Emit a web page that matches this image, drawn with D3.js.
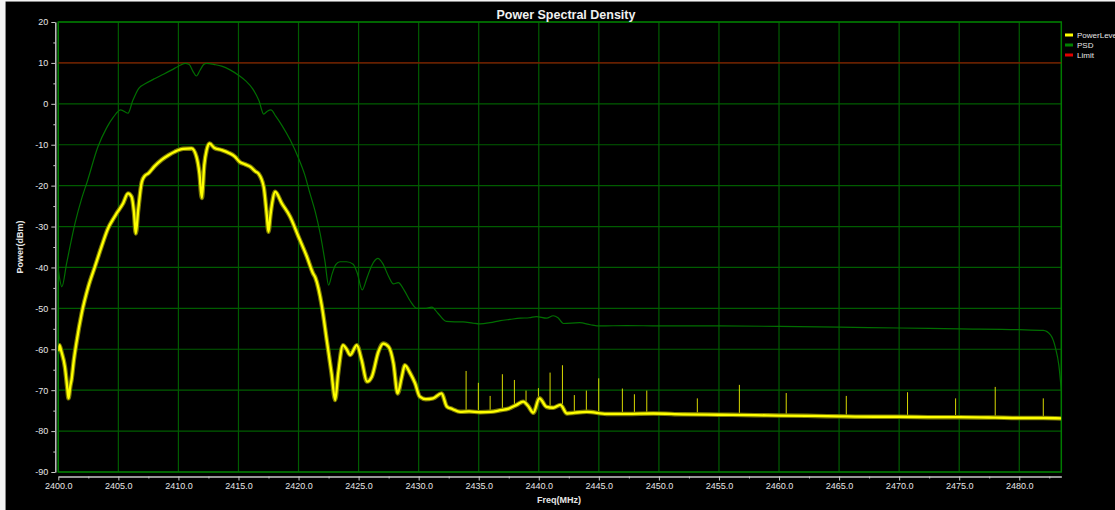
<!DOCTYPE html>
<html>
<head>
<meta charset="utf-8">
<script src="https://cdn.jsdelivr.net/npm/d3@7"></script>
<style>
	html, body { margin: 0; padding: 0; background: #f4f4f4; }
	svg { display: block; }
</style>
</head>
<body>
<svg id="psd-fig" width="1115" height="510"></svg>
<script>
// Spectrum values: [freq (MHz), level (dBm)]
const psd = [
	[2400.0, -40.5], [2400.3, -44.7], [2400.7, -38.9], [2401.4, -29.1], [2401.95, -23.1], [2402.4, -19.1],
	[2403.3, -10.5], [2404.0, -6.0], [2404.6, -3.2], [2405.2, -1.5], [2405.8, -2.3], [2406.2, 0.8],
	[2406.7, 3.8], [2407.3, 5.0], [2408.05, 6.2], [2408.8, 7.3], [2409.45, 8.3], [2410.0, 9.2],
	[2410.55, 9.9], [2410.9, 9.6], [2411.2, 8.0], [2411.5, 6.8], [2411.8, 8.2], [2412.1, 9.6],
	[2412.35, 9.9], [2413.0, 9.6], [2413.6, 9.2], [2414.3, 8.3], [2415.0, 7.0], [2415.6, 5.6],
	[2416.2, 3.6], [2416.7, 0.8], [2417.1, -2.5], [2417.4, -1.8], [2417.7, -1.5], [2418.1, -3.0],
	[2418.6, -5.2], [2419.3, -8.8], [2420.0, -13.3], [2420.5, -17.2], [2420.95, -21.9], [2421.4, -26.5],
	[2421.8, -31.7], [2422.2, -38.5], [2422.5, -44.3], [2422.8, -41.5], [2423.1, -39.3], [2423.45, -38.6],
	[2424.0, -38.6], [2424.55, -39.2], [2424.9, -41.5], [2425.3, -45.5], [2425.7, -42.5], [2426.1, -39.5],
	[2426.6, -37.8], [2427.0, -39.0], [2427.5, -42.2], [2427.9, -44.0], [2428.3, -43.7], [2428.8, -45.6],
	[2429.3, -48.2], [2429.85, -50.0], [2430.5, -50.0], [2431.1, -49.7], [2431.6, -51.2], [2432.3, -53.2],
	[2433.0, -53.3], [2433.7, -53.3], [2434.5, -53.6], [2435.1, -53.8], [2435.95, -53.5], [2436.8, -53.0],
	[2437.6, -52.7], [2438.45, -52.4], [2439.2, -52.3], [2439.8, -52.0], [2440.65, -52.4], [2441.2, -51.8],
	[2441.6, -52.3], [2442.05, -53.7], [2443.4, -53.5], [2444.3, -54.0], [2445.1, -54.3], [2447.3, -54.2],
	[2450.1, -54.3], [2455.0, -54.3], [2460.0, -54.4], [2465.0, -54.6], [2470.0, -54.8], [2475.0, -55.0],
	[2480.0, -55.2], [2482.0, -55.4], [2482.6, -56.5], [2483.0, -59.5], [2483.3, -64.0], [2483.5, -70.0]
];

const powerLevel = [
	[2400.0, -60.5], [2400.1, -59.0], [2400.25, -60.5], [2400.55, -64.3], [2400.75, -69.5], [2400.85, -72.0],
	[2401.0, -69.0], [2401.1, -67.5], [2401.3, -62.5], [2401.5, -58.6], [2401.95, -51.2], [2402.5, -44.7],
	[2403.05, -39.8], [2403.6, -34.9], [2404.15, -30.4], [2404.5, -28.5], [2404.85, -26.8], [2405.4, -24.3],
	[2405.8, -21.9], [2406.1, -22.7], [2406.3, -26.5], [2406.45, -31.7], [2406.65, -26.0], [2406.95, -19.1],
	[2407.2, -17.6], [2407.5, -17.0], [2408.0, -15.3], [2408.6, -13.7], [2409.2, -12.5], [2409.7, -11.7],
	[2410.4, -11.0], [2411.1, -10.9], [2411.5, -12.9], [2411.75, -17.0], [2411.95, -23.0], [2412.15, -15.0],
	[2412.35, -11.3], [2412.6, -9.7], [2413.0, -10.8], [2413.6, -11.3], [2414.2, -12.0], [2414.7, -12.9],
	[2415.1, -14.2], [2415.55, -14.8], [2416.0, -15.4], [2416.4, -16.5], [2416.65, -17.0], [2417.1, -20.3],
	[2417.35, -27.0], [2417.5, -31.3], [2417.65, -27.5], [2417.8, -24.3], [2418.05, -21.5], [2418.6, -24.3],
	[2419.3, -27.6], [2420.0, -32.5], [2420.7, -37.4], [2421.2, -41.4], [2421.4, -42.5], [2421.95, -49.6],
	[2422.35, -57.8], [2422.75, -65.9], [2423.05, -72.4], [2423.3, -65.9], [2423.7, -59.0], [2424.0, -60.0],
	[2424.3, -61.4], [2424.85, -59.0], [2425.25, -62.6], [2425.7, -67.9], [2426.1, -66.7], [2426.65, -60.6],
	[2427.05, -58.6], [2427.5, -59.4], [2427.9, -63.4], [2428.25, -70.8], [2428.6, -66.7], [2428.85, -63.9],
	[2429.3, -65.9], [2429.7, -68.3], [2430.1, -71.6], [2430.6, -72.2], [2431.2, -72.0], [2431.9, -70.8],
	[2432.35, -74.0], [2432.8, -74.6], [2433.45, -75.3], [2434.2, -75.2], [2435.1, -75.4], [2436.0, -75.3],
	[2436.8, -74.9], [2437.5, -74.5], [2438.15, -73.6], [2438.7, -72.8], [2439.1, -73.8], [2439.55, -75.5],
	[2440.05, -72.0], [2440.65, -74.1], [2441.2, -74.3], [2441.8, -73.6], [2442.35, -75.7], [2443.0, -75.5],
	[2444.0, -75.3], [2445.65, -75.8], [2447.3, -75.8], [2449.55, -75.7], [2452.0, -75.9], [2455.0, -76.0],
	[2458.0, -76.1], [2460.0, -76.2], [2463.0, -76.3], [2465.0, -76.4], [2468.0, -76.5], [2470.0, -76.5],
	[2473.0, -76.6], [2475.0, -76.6], [2478.0, -76.7], [2480.0, -76.8], [2482.0, -76.8], [2483.5, -76.9]
];

// Narrow spurs rising out of the noise floor: [freq, peak dBm]
const spurs = [
	[2433.95, -65.3], [2434.97, -68.2], [2435.95, -71.4], [2436.97, -66.1], [2437.97, -67.5],
	[2438.94, -70.1], [2439.97, -69.5], [2440.94, -65.7], [2441.97, -63.9], [2442.96, -71.2],
	[2443.96, -70.1], [2444.99, -67.1], [2446.96, -69.6], [2447.96, -71.0], [2448.99, -70.1],
	[2453.2, -72.0], [2456.7, -68.7], [2460.6, -70.7], [2465.6, -71.4], [2470.7, -70.5],
	[2474.7, -72.0], [2478.0, -69.2], [2482.0, -72.0]
];

const limitLevel = 10;
const freqTicks = d3.range(2400, 2480.01, 5);
const freqMinorTicks = d3.range(2402.5, 2483.5, 5);
const levelTicks = d3.range(20, -90.01, -10);
const levelMinorTicks = d3.range(15, -90, -10);
const legendItems = [
	{ label: 'PowerLevel', color: '#ffff00' },
	{ label: 'PSD', color: '#008000' },
	{ label: 'Limit', color: '#e00000' }
];

(function () {
	const svg = d3.select('#psd-fig');
	const W = 1115, H = 510;
	const plot = { left: 58.3, right: 1061.3, top: 22, bottom: 472 };

	// frame: light strip at top/left, black body
	svg.append('rect').attr('width', W).attr('height', H).attr('fill', '#f4f4f4');
	svg.append('rect').attr('x', 6).attr('y', 2).attr('width', W - 6).attr('height', H - 2).attr('fill', '#000');
	svg.append('line').attr('x1', 5.5).attr('x2', 5.5).attr('y1', 2).attr('y2', H).attr('stroke', '#888');
	svg.append('line').attr('x1', 5.5).attr('x2', W).attr('y1', 1.5).attr('y2', 1.5).attr('stroke', '#888');

	const x = d3.scaleLinear().domain([2400, 2483.5]).range([plot.left, plot.right]);
	const y = d3.scaleLinear().domain([-90, 20]).range([plot.bottom, plot.top]);

	// grid
	const grid = svg.append('g').attr('stroke', '#005c00').attr('stroke-width', 1.2);
	freqTicks.forEach(f => grid.append('line')
		.attr('x1', x(f)).attr('x2', x(f)).attr('y1', plot.top).attr('y2', plot.bottom));
	levelTicks.forEach(v => grid.append('line')
		.attr('x1', plot.left).attr('x2', plot.right).attr('y1', y(v)).attr('y2', y(v)));
	svg.append('rect')
		.attr('x', plot.left).attr('y', plot.top)
		.attr('width', plot.right - plot.left).attr('height', plot.bottom - plot.top)
		.attr('fill', 'none').attr('stroke', '#007a00').attr('stroke-width', 1.5);

	// limit line
	svg.append('line')
		.attr('x1', plot.left).attr('x2', plot.right)
		.attr('y1', y(limitLevel)).attr('y2', y(limitLevel))
		.attr('stroke', '#b00000').attr('stroke-width', 1);

	// axes
	const axisStyle = ax => {
		ax.selectAll('line, path').attr('stroke', '#c8c8c8');
		ax.selectAll('text').attr('fill', '#e6e6e6').attr('font-size', 9)
			.attr('font-family', '"Liberation Sans", Arial, sans-serif');
	};
	svg.append('g').attr('transform', 'translate(' + (plot.left - 3) + ',0)')
		.call(d3.axisLeft(y).tickValues(levelTicks).tickFormat(d => String(d))
			.tickSize(4).tickPadding(3).tickSizeOuter(0))
		.call(axisStyle);
	svg.append('g').attr('transform', 'translate(' + (plot.left - 3) + ',0)')
		.call(d3.axisLeft(y).tickValues(levelMinorTicks).tickFormat('').tickSize(2).tickSizeOuter(0))
		.call(axisStyle);
	svg.append('g').attr('transform', 'translate(0,' + (plot.bottom + 4.5) + ')')
		.call(d3.axisBottom(x).tickValues(freqTicks).tickFormat(d3.format('.1f'))
			.tickSize(4).tickPadding(2).tickSizeOuter(0))
		.call(axisStyle);
	svg.append('g').attr('transform', 'translate(0,' + (plot.bottom + 4.5) + ')')
		.call(d3.axisBottom(x).tickValues(freqMinorTicks).tickFormat('').tickSize(2).tickSizeOuter(0))
		.call(axisStyle);

	// titles
	const font = '"Liberation Sans", Arial, sans-serif';
	svg.append('text').attr('x', 566).attr('y', 18.5).attr('text-anchor', 'middle')
		.attr('font-family', font).attr('font-size', 12.5).attr('font-weight', 'bold')
		.attr('fill', '#f0f0f0').text('Power Spectral Density');
	svg.append('text').attr('x', 559).attr('y', 503).attr('text-anchor', 'middle')
		.attr('font-family', font).attr('font-size', 9).attr('font-weight', 'bold')
		.attr('fill', '#e6e6e6').text('Freq(MHz)');
	svg.append('text').attr('transform', 'translate(23,247) rotate(-90)').attr('text-anchor', 'middle')
		.attr('font-family', font).attr('font-size', 9).attr('font-weight', 'bold')
		.attr('fill', '#e6e6e6').text('Power(dBm)');

	// curves
	svg.append('clipPath').attr('id', 'plot-clip').append('rect')
		.attr('x', plot.left).attr('y', plot.top)
		.attr('width', plot.right - plot.left).attr('height', plot.bottom - plot.top);
	const area = svg.append('g').attr('clip-path', 'url(#plot-clip)');
	const line = d3.line().x(d => x(d[0])).y(d => y(d[1])).curve(d3.curveMonotoneX);

	area.append('path').attr('d', line(psd))
		.attr('fill', 'none').attr('stroke', '#006e00').attr('stroke-width', 1.2);

	// spurs rise from the trace at their frequency
	const bisect = d3.bisector(d => d[0]).center;
	area.selectAll('line.spur').data(spurs).join('line')
		.attr('class', 'spur')
		.attr('x1', d => x(d[0])).attr('x2', d => x(d[0]))
		.attr('y1', d => y(powerLevel[bisect(powerLevel, d[0])][1]))
		.attr('y2', d => y(d[1]))
		.attr('stroke', '#d8d800').attr('stroke-width', 1);

	area.append('path').attr('d', line(powerLevel))
		.attr('fill', 'none').attr('stroke', '#7a7a00').attr('stroke-width', 4.5)
		.attr('stroke-linejoin', 'round');
	area.append('path').attr('d', line(powerLevel))
		.attr('fill', 'none').attr('stroke', '#ffff00').attr('stroke-width', 2.3)
		.attr('stroke-linejoin', 'round');

	// legend
	const legend = svg.append('g').attr('transform', 'translate(1065,35)');
	legendItems.forEach((e, i) => {
		const row = legend.append('g').attr('transform', 'translate(0,' + (i * 10) + ')');
		row.append('line').attr('x1', 0).attr('x2', 8).attr('y1', 0).attr('y2', 0)
			.attr('stroke', e.color).attr('stroke-width', 3);
		row.append('text').attr('x', 12).attr('y', 3).attr('fill', '#e6e6e6')
			.attr('font-family', font).attr('font-size', 8).text(e.label);
	});
})();
</script>
</body>
</html>
